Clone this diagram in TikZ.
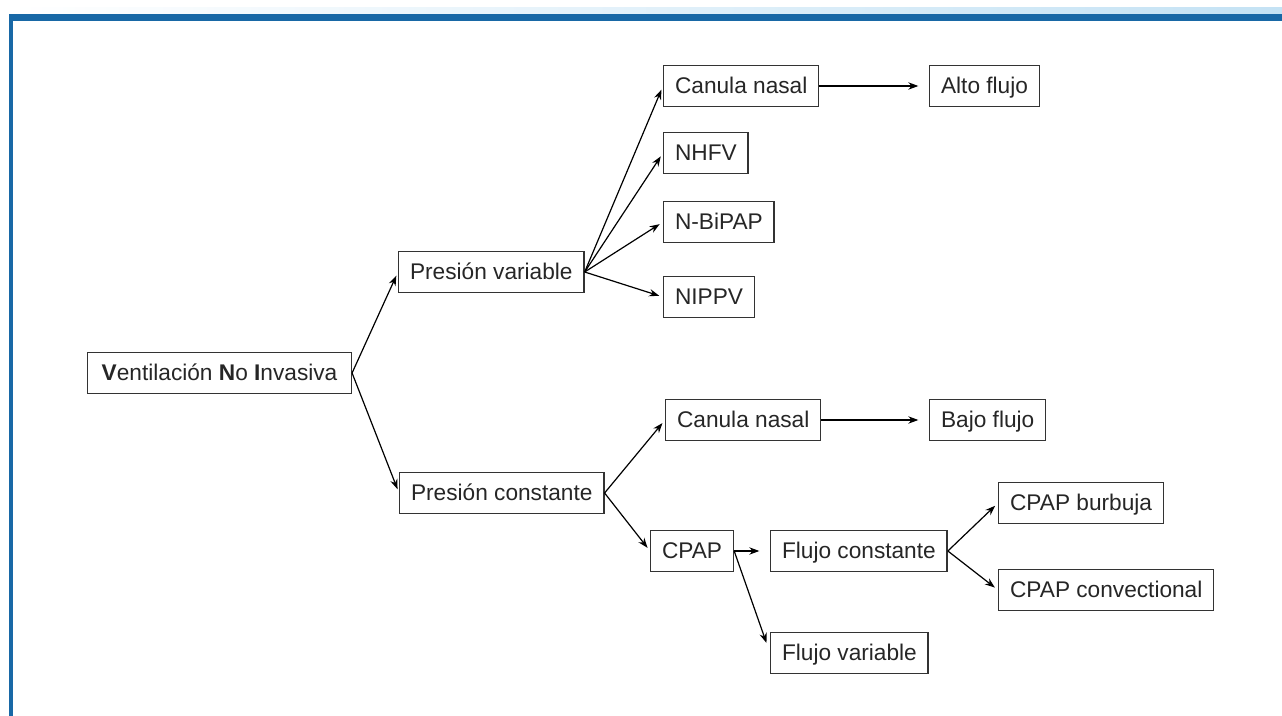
\documentclass[tikz,border=0pt]{standalone}
\usepackage{fontspec}
\setmainfont{Liberation Sans}
\usetikzlibrary{arrows.meta}

\definecolor{frameblue}{RGB}{24,104,166}
\definecolor{barlight}{RGB}{196,226,244}

\begin{document}
\begin{tikzpicture}[x=0.75pt,y=0.75pt,yscale=-1,
  box/.style={draw=black!80,line width=1.1pt,minimum height=31pt,inner xsep=8.5pt,
    inner ysep=7.5pt,text height=12pt,text depth=1pt,
    font=\fontsize{17}{20}\selectfont,text=black!85,anchor=west},
  arr/.style={-{Stealth[length=7.5pt,width=5.5pt]},line width=0.9pt,shorten >=3pt}]
\useasboundingbox (0,0) rectangle (1282,716);

%Shape: Frame
\shade[left color=white,right color=barlight] (9,8) rectangle (1282,14);
\fill[frameblue] (9,14) rectangle (1282,21);
\fill[frameblue] (9,14) rectangle (13,716);

% Text Node
\node[box,inner xsep=10.5pt] (vni) at (87,373) {\textbf{V}entilación \textbf{N}o \textbf{I}nvasiva};
\node[box] (pv) at (398,272) {Presión variable};
\node[box] (pc) at (399,493) {Presión constante};
% Text Node
\node[box] (cn1) at (663,86) {Canula nasal};
\node[box] (alto) at (929,86) {Alto flujo};
\node[box] (nhfv) at (663,153) {NHFV};
\node[box] (bipap) at (663,222) {N-BiPAP};
\node[box] (nippv) at (663,297) {NIPPV};
% Text Node
\node[box] (cn2) at (665,420) {Canula nasal};
\node[box] (bajo) at (929,420) {Bajo flujo};
\node[box] (cpap) at (650,551) {CPAP};
\node[box] (fc) at (770,551) {Flujo constante};
\node[box] (fv) at (770,653) {Flujo variable};
\node[box] (burb) at (998,503) {CPAP burbuja};
\node[box] (conv) at (998,590) {CPAP convectional};

%Straight Lines
\draw[arr] (vni.east) -- (pv.west);
\draw[arr] (vni.east) -- (pc.west);
\foreach \t in {cn1,nhfv,bipap,nippv}
  \draw[arr] (pv.east) -- (\t.west);
\draw[arr,shorten >=8pt] (cn1.east) -- (alto.west);
\draw[arr] (pc.east) -- (cn2.west);
\draw[arr] (pc.east) -- (cpap.west);
\draw[arr,shorten >=8pt] (cn2.east) -- (bajo.west);
\draw[arr,shorten >=8pt] (cpap.east) -- (fc.west);
\draw[arr,shorten >=8pt] (cpap.east) -- (fv.west);
\draw[arr] (fc.east) -- (burb.west);
\draw[arr] (fc.east) -- (conv.west);

\end{tikzpicture}
\end{document}
